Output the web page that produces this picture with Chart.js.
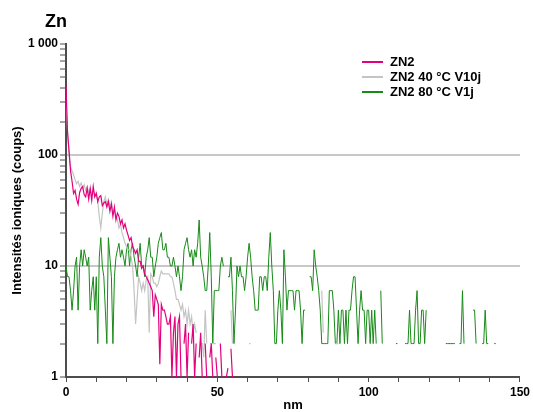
<!DOCTYPE html>
<html>
<head>
<meta charset="utf-8">
<script src="https://cdn.jsdelivr.net/npm/chart.js@4.4.1/dist/chart.umd.min.js"></script>
<style>
  html, body { margin: 0; padding: 0; background: #fff; }
  canvas { display: block; }
</style>
</head>
<body>
<canvas id="zn-chart" width="533" height="412"></canvas>
<script>
// profondeur en nm : un point tous les 0,5 nm, 0 = pas de signal (non tracé en log)
const depthStep = 0.5

const seriesNames = ['ZN2', 'ZN2 40 °C V10j', 'ZN2 80 °C V1j']
const seriesColors = ['#e5007d', '#c4c4c4', '#178a17']

// ZN2, 0 -> 55 nm
const zn2 = [
  420, 160, 110, 72, 58, 45, 48, 40, 36, 46,
  50, 52, 44, 42, 50, 40, 50, 39, 52, 42,
  45, 38, 42, 43, 35, 37, 38, 34, 38, 31,
  36, 28, 34, 26, 30, 28, 24, 26, 22, 24,
  21, 19, 17, 18, 15, 14, 13, 14, 11, 11,
  9.5, 10, 8.5, 8, 7.5, 7, 6.5, 6, 3.5, 5.5,
  5, 4.5, 1.3, 4.5, 4, 4, 3.5, 3, 3, 3.5,
  1, 2.5, 3.5, 1, 3, 3.5, 1, 0, 2, 3,
  1, 2.5, 0, 2, 3, 1, 2, 0, 1.5, 2.5,
  1, 0, 2, 1, 0, 1.5, 2, 1, 0, 1.5,
  1, 0, 2, 1, 0, 0, 1, 1.2, 0, 1.8,
  1
]

// ZN2 40 °C V10j, 0 -> 90 nm
const zn2At40 = [
  300, 170, 100, 78, 72, 66, 60, 55, 58, 52,
  56, 50, 54, 48, 52, 46, 50, 44, 48, 42,
  46, 38, 28, 22, 30, 38, 42, 36, 40, 34,
  38, 30, 32, 28, 26, 22, 24, 20, 18, 16,
  15, 14, 14, 12, 10, 6, 3, 5, 8, 7,
  6, 7, 6, 7.5, 8, 2.5, 8.5, 8, 7, 7,
  6.5, 7, 8, 9, 8.5, 8.5, 8.5, 8.5, 8.5, 8,
  8, 7, 6, 5, 5, 4.5, 4, 4.5, 3.5, 4,
  3, 4, 3, 3.5, 2.5, 3, 2.5, 0, 0, 2,
  2, 1.5, 4, 2, 0, 2, 2, 2, 2, 2,
  0, 0, 0, 0, 0, 0, 0, 0, 0, 4,
  2, 0, 0, 0, 0, 0, 0, 0, 0, 0,
  0, 2, 2, 0, 0, 0, 0, 0, 0, 0,
  0, 0, 0, 0, 0, 0, 0, 0, 0, 0,
  0, 0, 0, 0, 0, 0, 0, 0, 0, 0,
  0, 0, 0, 0, 0, 0, 0, 0, 0, 0,
  0, 0, 0, 0, 0, 0, 0, 0, 0, 6,
  2.5, 0, 0, 0, 0, 0, 0, 0, 2, 2,
  2
]

// ZN2 80 °C V1j, 0 -> 142 nm
const zn2At80 = [
  10, 8, 8, 6, 4, 6, 10, 12, 4, 10,
  14, 10, 14, 12, 10, 12, 4, 6, 8, 4,
  8, 2, 12, 18, 10, 8, 4, 2, 18, 12,
  8, 2, 8, 12, 14, 16, 12, 14, 12, 10,
  14, 16, 10, 14, 16, 12, 10, 8, 12, 16,
  10, 10, 8, 12, 14, 18, 12, 12, 8, 10,
  12, 16, 18, 20, 14, 14, 16, 12, 12, 10,
  10, 12, 10, 8, 10, 8, 6, 8, 14, 16,
  18, 14, 12, 14, 10, 14, 12, 16, 26, 12,
  10, 8, 6, 6, 10, 20, 8, 2, 6, 6,
  6, 6, 10, 12, 10, 0, 0, 8, 8, 12,
  6, 2, 4, 10, 8, 10, 8, 8, 6, 8,
  12, 16, 12, 8, 6, 4, 4, 4, 8, 8,
  6, 8, 8, 6, 12, 20, 10, 6, 2, 2,
  4, 6, 4, 2, 14, 8, 4, 6, 6, 6,
  6, 4, 6, 6, 6, 4, 2, 4, 4, 0,
  0, 8, 8, 6, 14, 10, 8, 6, 4, 2,
  2, 2, 2, 2, 6, 6, 6, 4, 2, 2,
  4, 2, 4, 4, 2, 4, 2, 4, 4, 6,
  8, 8, 4, 2, 4, 6, 4, 4, 2, 4,
  4, 2, 4, 2, 4, 2, 0, 0, 6, 2,
  0, 0, 0, 0, 0, 0, 0, 0, 2, 2,
  0, 0, 0, 0, 2, 2, 2, 4, 2, 2,
  2, 4, 6, 2, 2, 4, 4, 2, 4, 0,
  0, 0, 0, 0, 0, 0, 0, 0, 0, 0,
  0, 2, 2, 2, 2, 2, 2, 2, 0, 0,
  2, 2, 6, 2, 0, 0, 0, 0, 0, 4,
  4, 2, 0, 0, 0, 2, 2, 4, 2, 2,
  0, 0, 0, 2, 2
]

const yMajorTicks = [1, 10, 100, 1000]
const yGridValues = [10, 100]
const xTickLabels = [0, 50, 100, 150]
const xTickStep = 10

const FONT = '"Liberation Sans", Arial, sans-serif'
const AXIS_COLOR = '#4d4d4d'

const toPoints = values => values.map((v, i) => ({ x: i * depthStep, y: v > 0 ? v : null }))

// graduations log : 1..9, 10..90, 100..900, 1000
const yTickValues = []
yMajorTicks.forEach((m, i) => {
  if (i === yMajorTicks.length - 1) { yTickValues.push(m); return }
  for (let k = 1; k < 10; k++) yTickValues.push(m * k)
})

const withSpaces = v => String(v).replace(/\B(?=(\d{3})+(?!\d))/g, ' ')

const overlay = {
  id: 'overlay',
  afterDraw(chart) {
    const ctx = chart.ctx
    ctx.save()
    ctx.fillStyle = '#000'
    ctx.font = `bold 18px ${FONT}`
    ctx.textAlign = 'right'
    ctx.textBaseline = 'middle'
    ctx.fillText('Zn', 67, 22)

    ctx.font = `bold 13px ${FONT}`
    ctx.textAlign = 'left'
    chart.data.datasets.forEach((ds, i) => {
      const y = 62 + i * 15
      ctx.strokeStyle = ds.borderColor
      ctx.lineWidth = 2
      ctx.beginPath()
      ctx.moveTo(362, y)
      ctx.lineTo(383, y)
      ctx.stroke()
      ctx.fillText(ds.label, 390, y)
    })
    ctx.restore()
  }
}

Chart.defaults.font.family = FONT

new Chart(document.querySelector('#zn-chart'), {
  type: 'line',
  data: {
    datasets: [zn2, zn2At40, zn2At80].map((values, i) => ({
      label: seriesNames[i],
      data: toPoints(values),
      borderColor: seriesColors[i],
      borderWidth: i === 2 ? 1 : 1.2,
      pointRadius: 0,
      tension: 0,
      spanGaps: false
    }))
  },
  options: {
    responsive: false,
    animation: false,
    layout: { padding: { top: 44, right: 13, bottom: 0, left: 0 } },
    plugins: {
      legend: { display: false },
      title: { display: false },
      tooltip: { enabled: false }
    },
    scales: {
      x: {
        type: 'linear',
        min: 0,
        max: 150,
        ticks: {
          stepSize: xTickStep,
          autoSkip: false,
          maxRotation: 0,
          padding: 3,
          color: '#000',
          font: { size: 12, weight: 'bold' },
          callback: v => xTickLabels.includes(v) ? v : ''
        },
        grid: {
          drawOnChartArea: false,
          tickLength: 5,
          tickColor: AXIS_COLOR,
          tickWidth: 1
        },
        border: { color: AXIS_COLOR, width: 2 },
        title: {
          display: true,
          text: 'nm',
          color: '#000',
          font: { size: 13, weight: 'bold', lineHeight: 1 },
          padding: { top: 0, bottom: 0 }
        },
        afterFit: scale => { scale.height = 35 }
      },
      y: {
        type: 'logarithmic',
        min: 1,
        max: 1000,
        afterBuildTicks: scale => {
          scale.ticks = yTickValues.map(v => ({ value: v }))
        },
        ticks: {
          autoSkip: false,
          padding: 2,
          color: '#000',
          font: { size: 12, weight: 'bold' },
          callback: v => yMajorTicks.includes(v) ? withSpaces(v) : ''
        },
        grid: {
          color: c => c.tick && yGridValues.includes(c.tick.value) ? '#c8c8c8' : 'rgba(0,0,0,0)',
          lineWidth: 2,
          tickLength: 6,
          tickColor: AXIS_COLOR,
          tickWidth: 1
        },
        border: { color: AXIS_COLOR, width: 2 },
        title: {
          display: true,
          text: 'Intensités ioniques (coups)',
          color: '#000',
          font: { size: 13, weight: 'bold', lineHeight: 1 },
          padding: { top: 11, bottom: 0 }
        },
        afterFit: scale => { scale.width = 66 }
      }
    }
  },
  plugins: [overlay]
})
</script>
</body>
</html>
